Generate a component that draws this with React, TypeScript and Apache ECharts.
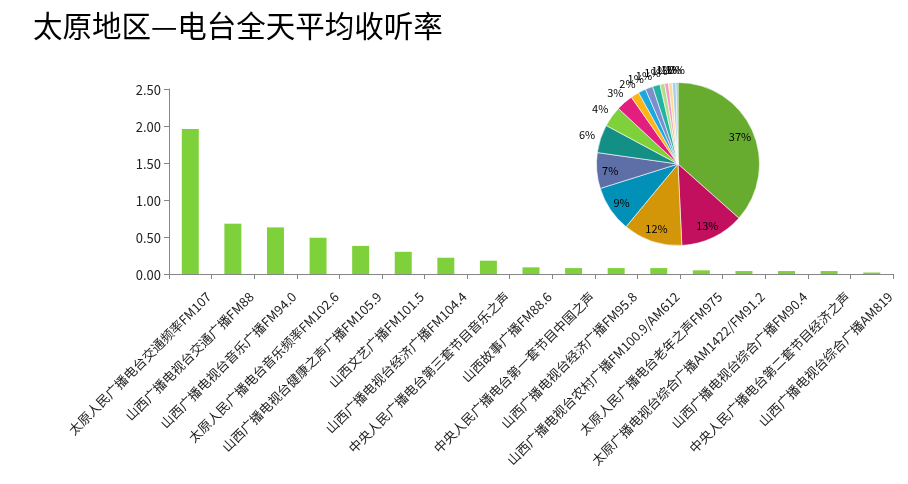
import React, { useEffect, useRef } from "react";
import * as echarts from "echarts";

const titleText = "太原地区—电台全天平均收听率";

const categories = [
  "太原人民广播电台交通频率FM107",
  "山西广播电视台交通广播FM88",
  "山西广播电视台音乐广播FM94.0",
  "太原人民广播电台音乐频率FM102.6",
  "山西广播电视台健康之声广播FM105.9",
  "山西文艺广播FM101.5",
  "山西广播电视台经济广播FM104.4",
  "中央人民广播电台第三套节目音乐之声",
  "山西故事广播FM88.6",
  "中央人民广播电台第一套节目中国之声",
  "山西广播电视台经济广播FM95.8",
  "山西广播电视台农村广播FM100.9/AM612",
  "太原人民广播电台老年之声FM975",
  "太原广播电视台综合广播AM1422/FM91.2",
  "山西广播电视台综合广播FM90.4",
  "中央人民广播电台第二套节目经济之声",
  "山西广播电视台综合广播AM819",
];

const ratings = [1.96, 0.68, 0.63, 0.49, 0.38, 0.3, 0.22, 0.18, 0.09, 0.08, 0.08, 0.08, 0.05, 0.04, 0.04, 0.04, 0.02];

const yTicks = [0, 0.5, 1.0, 1.5, 2.0, 2.5];

const pieColors = [
  "#67AB2F", "#C2105F", "#D39609", "#0090B8", "#5E6EA6", "#148F85",
  "#7FD13B", "#E21E7F", "#FDB515", "#1CA7DE", "#7D8ECF", "#23B3A2",
  "#B2DE8E", "#F29CC0", "#FDDA9C", "#A6D1EC", "#8FC3E6",
];

const barColor = "#7FD13B";
const axisColor = "#868686";
const textColor = "#222222";
const font = "'Microsoft YaHei', 'Noto Sans CJK SC', 'Noto Sans', sans-serif";

const INSIDE_COUNT = 5;

export default function App() {
  const ref = useRef<HTMLDivElement>(null);

  useEffect(() => {
    if (!ref.current) return;
    const chart = echarts.init(ref.current, null, { renderer: "svg" });
    const total = ratings.reduce((a, b) => a + b, 0);
    const pct = (v: number) => Math.round((v / total) * 100) + "%";
    const center = [678, 164];
    const R = 81.5;

    chart.setOption({
      animation: false,
      title: {
        text: titleText,
        left: 33,
        top: 9,
        padding: 0,
        textStyle: { fontSize: 29.5, fontWeight: "normal", color: "#000", fontFamily: font },
      },
      grid: { left: 169, right: 15, top: 89, bottom: 210 },
      xAxis: {
        type: "category",
        data: categories,
        boundaryGap: true,
        axisLine: { lineStyle: { color: axisColor, width: 1 } },
        axisTick: { show: true, alignWithLabel: false, length: 5, lineStyle: { color: axisColor } },
        axisLabel: {
          interval: 0,
          rotate: 45,
          fontSize: 13,
          color: textColor,
          fontFamily: font,
          margin: 2,
          verticalAlign: "top",
          padding: [19, 0, 0, 0],
        },
        splitLine: { show: false },
      },
      yAxis: {
        type: "value",
        min: yTicks[0],
        max: yTicks[yTicks.length - 1],
        interval: 0.5,
        axisLine: { show: true, lineStyle: { color: axisColor, width: 1 } },
        axisTick: { show: true, length: 5, lineStyle: { color: axisColor } },
        axisLabel: {
          fontSize: 13,
          color: textColor,
          fontFamily: font,
          margin: 8,
          formatter: (v: number) => v.toFixed(2),
        },
        splitLine: { show: false },
      },
      series: [
        {
          type: "bar",
          data: ratings,
          barWidth: 17,
          itemStyle: { color: barColor },
          silent: true,
        },
        {
          type: "pie",
          center,
          radius: [0, R],
          startAngle: 90,
          clockwise: true,
          silent: true,
          avoidLabelOverlap: false,
          labelLayout: { hideOverlap: false },
          labelLine: { show: false, length: 14, length2: 0 },
          itemStyle: { borderColor: "#ffffff", borderWidth: 0.6 },
          data: ratings.map((v, i) => ({
            value: v,
            name: categories[i],
            itemStyle: { color: pieColors[i] },
            label: {
              show: i >= INSIDE_COUNT,
              position: "outside",
              distanceToLabelLine: -8,
              color: "#000",
              fontSize: 11,
              fontFamily: font,
              formatter: () => pct(v),
            },
          })),
          z: 4,
        },
        {
          type: "pie",
          center,
          radius: [48, 82],
          startAngle: 90,
          clockwise: true,
          silent: true,
          avoidLabelOverlap: false,
          labelLayout: { hideOverlap: false },
          itemStyle: { color: "rgba(0,0,0,0)", borderWidth: 0 },
          emphasis: { disabled: true },
          labelLine: { show: false },
          data: ratings.map((v, i) => ({
            value: v,
            name: categories[i],
            label: {
              show: i < INSIDE_COUNT,
              position: "inside",
              color: "#000",
              fontSize: 11,
              fontFamily: font,
              formatter: () => pct(v),
            },
          })),
          z: 5,
        },
      ],
    });
    return () => chart.dispose();
  }, []);

  return (
    <div
      ref={ref}
      style={{ position: "fixed", left: 0, top: 0, width: 908, height: 484 }}
    />
  );
}
